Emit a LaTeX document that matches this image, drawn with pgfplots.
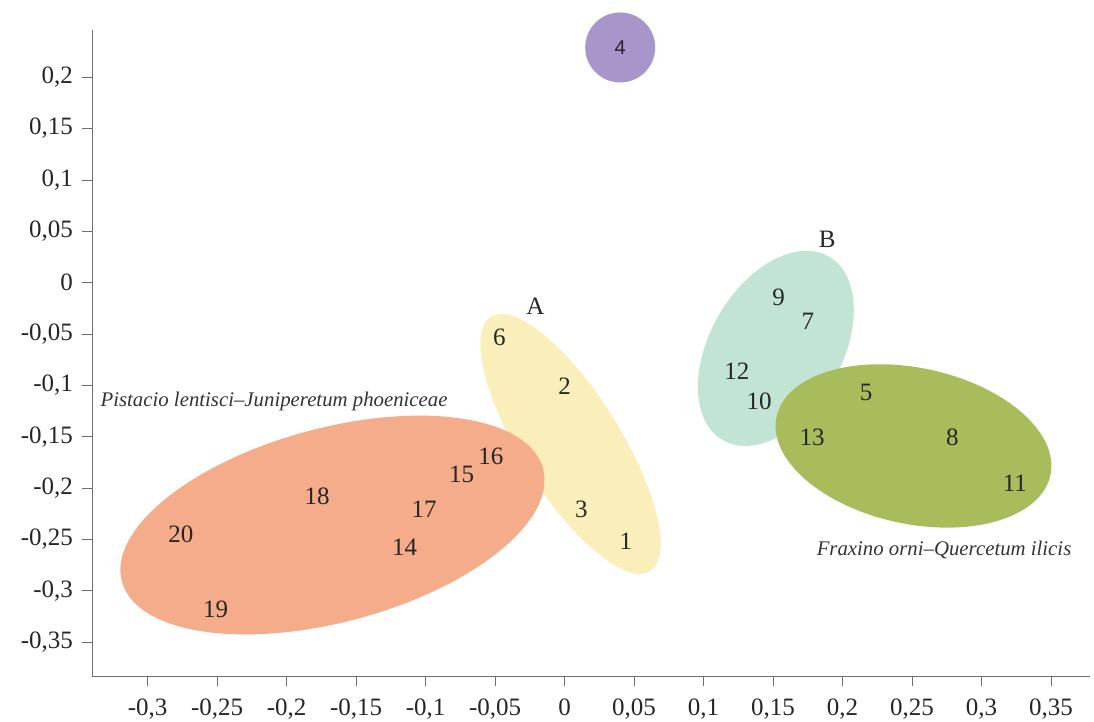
\documentclass[border=0pt]{standalone}
\usepackage{fontspec}
\setmainfont{Liberation Serif}
\newfontfamily\sansf{Liberation Sans}
\usepackage{pgfplots}
\usepackage{pgfplotstable}
\pgfplotsset{compat=1.18}
\definecolor{corange}{RGB}{244,172,138}
\definecolor{cyellow}{RGB}{250,239,186}
\definecolor{cteal}{RGB}{194,228,212}
\definecolor{cgreen}{RGB}{168,188,92}
\definecolor{cpurple}{RGB}{168,150,202}
\definecolor{axgray}{RGB}{110,110,110}

\pgfplotstableread{
x y lab
0.044 -0.252 1
0.000 -0.101 2
0.012 -0.221 3
0.217 -0.107 5
-0.047 -0.053 6
0.175 -0.038 7
0.279 -0.151 8
0.154 -0.014 9
0.140 -0.116 10
0.324 -0.195 11
0.124 -0.086 12
0.178 -0.151 13
-0.115 -0.258 14
-0.074 -0.187 15
-0.053 -0.169 16
-0.101 -0.221 17
-0.178 -0.208 18
-0.251 -0.318 19
-0.276 -0.245 20
-0.021 -0.023 A
0.189 0.042 B
}\pts

\pgfplotstableread{
x y lab
0.040 0.229 4
}\ptfour

\begin{document}
\begin{tikzpicture}
\begin{axis}[
  scale only axis, width=499pt, height=323pt,
  xmin=-0.34, xmax=0.378, ymin=-0.383, ymax=0.246,
  axis lines=left,
  axis line style={axgray, -},
  xtick={-0.3,-0.25,-0.2,-0.15,-0.1,-0.05,0,0.05,0.1,0.15,0.2,0.25,0.3,0.35},
  ytick={-0.35,-0.3,-0.25,-0.2,-0.15,-0.1,-0.05,0,0.05,0.1,0.15,0.2},
  tick align=outside, major tick length=5pt,
  tick style={axgray, thin},
  /pgf/number format/.cd, use comma, fixed, precision=2, assume math mode=true,
  /pgfplots/.cd,
  tick label style={font=\fontsize{12.5}{14}\selectfont, text=black!85},
  xticklabel style={yshift=-3pt},
  yticklabel style={xshift=-1pt},
  clip=false,
]
% ellipses
\fill[cyellow] (axis cs:0.0043,-0.157) circle [x radius=75pt, y radius=25pt, rotate=-58];
\fill[corange] (axis cs:-0.167,-0.236) circle [x radius=109pt, y radius=48.5pt, rotate=15];
\fill[cteal] (axis cs:0.152,-0.064) circle [x radius=53pt, y radius=33pt, rotate=60];
\fill[cgreen] (axis cs:0.251,-0.159) circle [x radius=70pt, y radius=39pt, rotate=-12];
\fill[cpurple] (axis cs:0.040,0.229) circle [radius=17.5pt];

\addplot[only marks, mark=none, point meta=explicit symbolic,
  nodes near coords,
  every node near coord/.append style={anchor=center, font=\fontsize{12.5}{14}\selectfont, text=black!85}]
  table[meta=lab] {\pts};
\addplot[only marks, mark=none, point meta=explicit symbolic,
  nodes near coords,
  every node near coord/.append style={anchor=center, font=\sansf\fontsize{10}{12}\selectfont, text=black!85}]
  table[meta=lab] {\ptfour};

\node[font=\itshape\fontsize{10.4}{12}\selectfont, text=black!80] at (axis cs:-0.209,-0.116) {Pistacio lentisci–Juniperetum phoeniceae};
\node[font=\itshape\fontsize{10.4}{12}\selectfont, text=black!80] at (axis cs:0.273,-0.260) {Fraxino orni–Quercetum ilicis};
\end{axis}
\pgfresetboundingbox
\path ([shift={(-46pt,-23pt)}]current axis.south west) rectangle ([shift={(2pt,15pt)}]current axis.north east);
\end{tikzpicture}
\end{document}
